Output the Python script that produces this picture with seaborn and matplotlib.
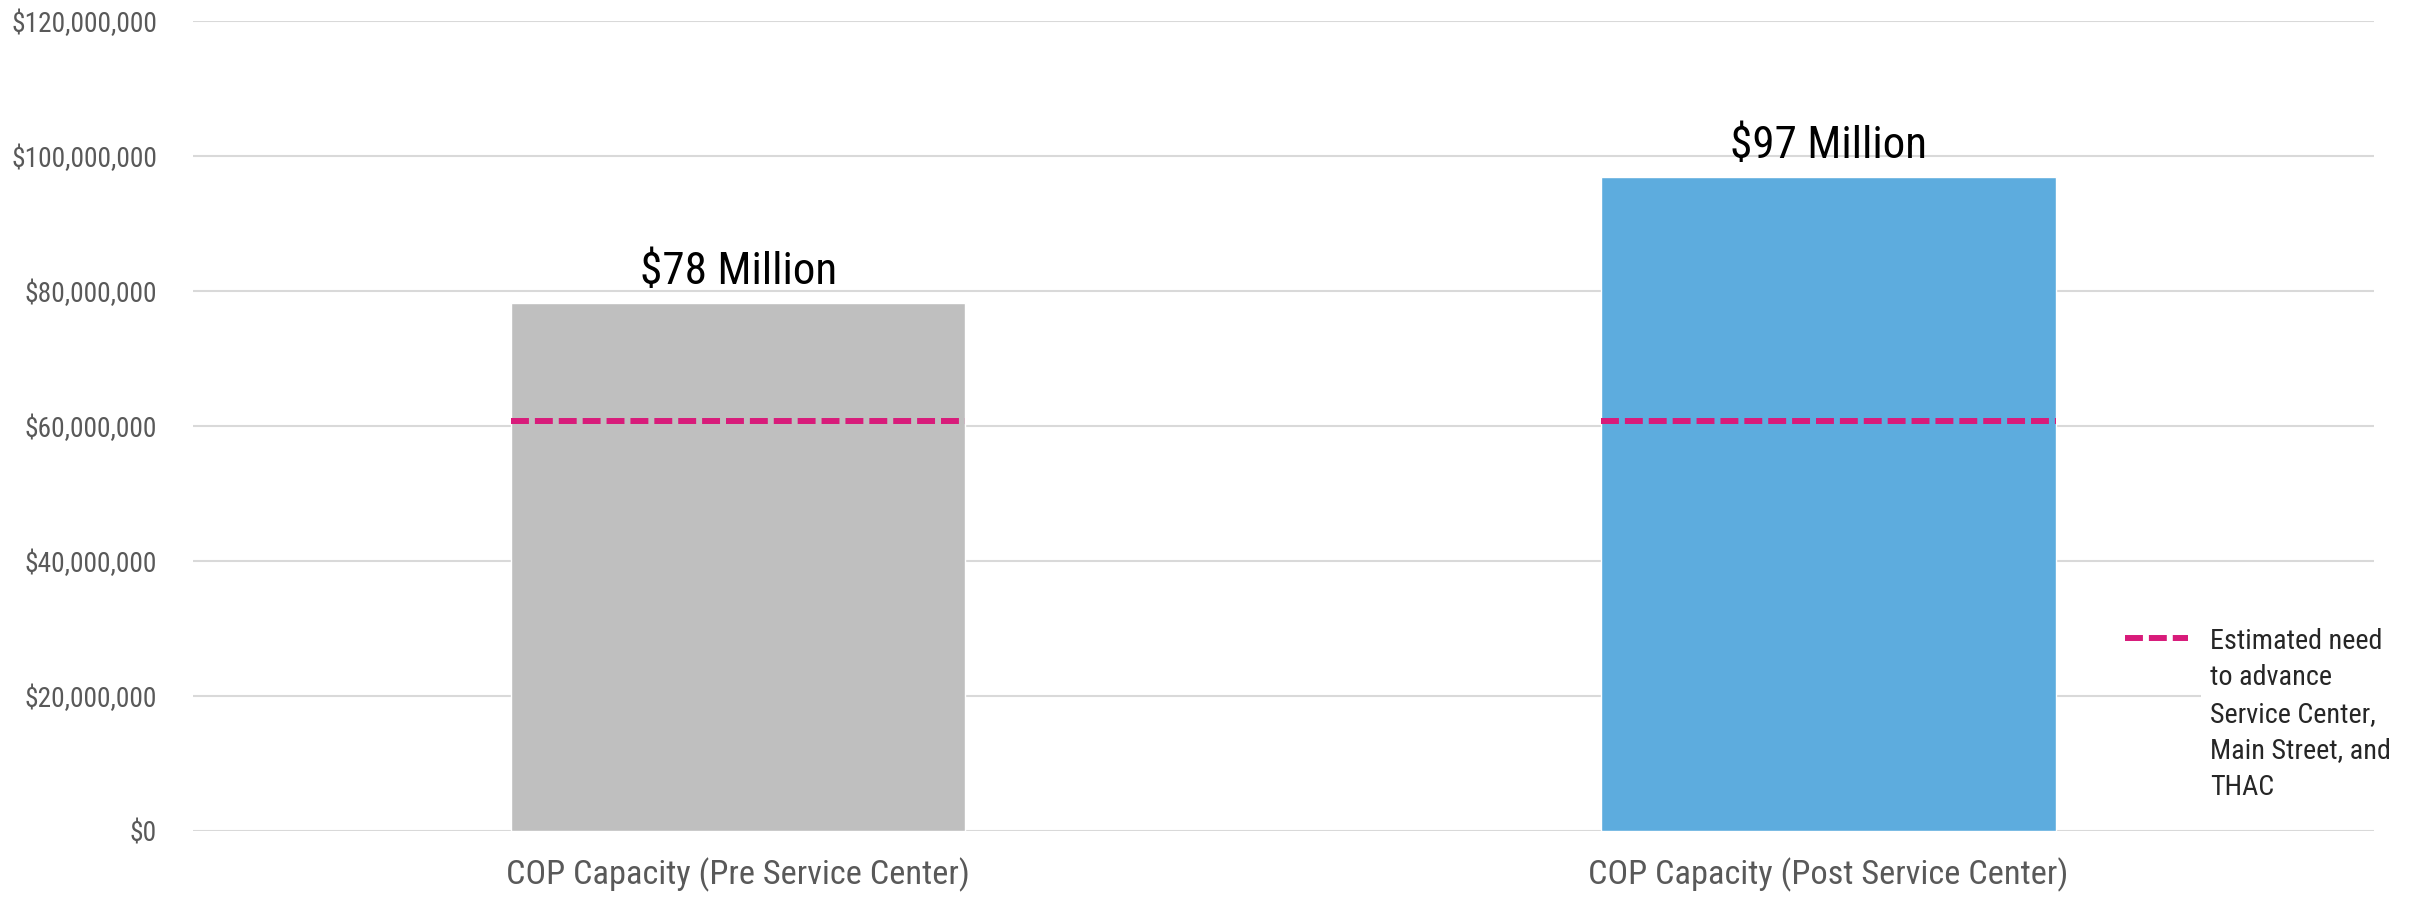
import pandas as pd
import matplotlib.pyplot as plt
import seaborn as sns
from matplotlib import font_manager
from matplotlib.font_manager import FontProperties
from matplotlib.lines import Line2D
from matplotlib.textpath import TextPath
from matplotlib.ticker import FuncFormatter

# Daten
categories = ["COP Capacity (Pre Service Center)", "COP Capacity (Post Service Center)"]
capacity = [78_200_000, 96_900_000]
need = [60_800_000, 60_800_000]
bar_labels = ["$78 Million", "$97 Million"]
bar_colors = ["#BFBFBF", "#5DACDE"]
need_label = "Estimated need\nto advance\nService Center,\nMain Street, and\nTHAC"

df = pd.DataFrame({"Kategorie": categories, "Kapazitaet": capacity, "Bedarf": need})

sns.set_theme(style="white")

# schmale Schrift suchen (Original ist eine Narrow-Schrift)
names = {(f.name, f.stretch) for f in font_manager.fontManager.ttflist}
family, stretch = "Roboto", "normal"
for fam, st in [("Liberation Sans Narrow", None), ("Roboto Condensed", None),
                ("DejaVu Sans", "condensed"), ("Noto Sans", "condensed"),
                ("Open Sans", "condensed")]:
    hits = [s for n, s in names if n == fam]
    if not hits:
        continue
    if st is None or st in hits or any(str(h) in ("condensed", "semi-condensed", "75", "87") for h in hits):
        family, stretch = fam, (st or "normal")
        break
plt.rcParams["font.family"] = [family, "DejaVu Sans"]
plt.rcParams["font.stretch"] = stretch
fp = FontProperties(family=family, stretch=stretch)


def fit_size(sample, cap_px, width_px):
    # Schriftgroesse (pt) passend zu Versalhoehe und Breite im Original
    cap = TextPath((0, 0), "H", size=1, prop=fp).get_extents().height
    w = TextPath((0, 0), sample, size=1, prop=fp).get_extents().width
    return min(cap_px / cap, width_px / w) * 72 / 100


fs_ytick = fit_size("$120,000,000", 22, 143)
fs_xtick = fit_size(categories[0], 28, 460)
fs_bar = fit_size(bar_labels[0], 33, 192)
fs_leg = fit_size("Estimated need", 20, 168)

fig = plt.figure(figsize=(24.22, 8.99), dpi=100)
ax = fig.add_axes([0.0797, 0.0756, 0.9003, 0.901])

bar_width = 0.417
sns.barplot(data=df, x="Kategorie", y="Kapazitaet", hue="Kategorie",
            palette=bar_colors, width=bar_width, saturation=1, legend=False,
            ax=ax, zorder=2)

# Bedarf als gestrichelte Linie ueber die Balkenbreite
need_style = (0, (3.0, 1.0))
for i, val in enumerate(df["Bedarf"]):
    ax.hlines(val, i - bar_width / 2, i + bar_width / 2, colors="#D81B7A",
              linestyles=need_style, linewidth=4.3, zorder=3)

# Beschriftungen ueber den Balken
for i, (val, lab) in enumerate(zip(df["Kapazitaet"], bar_labels)):
    ax.annotate(lab, (i, val), xytext=(0, 14), textcoords="offset points",
                ha="center", va="baseline", fontsize=fs_bar, color="black")

ax.set_ylim(0, 120_000_000)
ax.set_xlim(-0.5, 1.5)
ax.yaxis.set_major_locator(plt.MultipleLocator(20_000_000))
ax.yaxis.set_major_formatter(FuncFormatter(lambda v, p: f"${v:,.0f}"))
ax.grid(axis="y", color="#D9D9D9", linewidth=1.5, zorder=0)
ax.set_axisbelow(True)
for s in ax.spines.values():
    s.set_visible(False)
ax.set_xlabel("")
ax.set_ylabel("")
ax.tick_params(axis="y", length=0, pad=26, labelsize=fs_ytick, labelcolor="#595959")
ax.tick_params(axis="x", length=0, pad=19, labelsize=fs_xtick, labelcolor="#595959")

handle = Line2D([0], [0], color="#D81B7A", linewidth=4.3, linestyle=need_style)
leg = fig.legend([handle], [need_label], loc="upper left",
                 bbox_to_anchor=(2125 / 2422, 1 - 628 / 899), fontsize=fs_leg,
                 frameon=False, borderpad=0, borderaxespad=0,
                 handlelength=45 / fs_leg, handletextpad=16 / fs_leg)
leg.texts[0].set_linespacing(1.45)
leg.texts[0].set_bbox(dict(facecolor="white", edgecolor="none", pad=6))
# Linie an der ersten Textzeile ausrichten
for col in leg._legend_handle_box.get_children():
    for item in col.get_children():
        item.align = "top"

plt.savefig("out.png", dpi=100)
